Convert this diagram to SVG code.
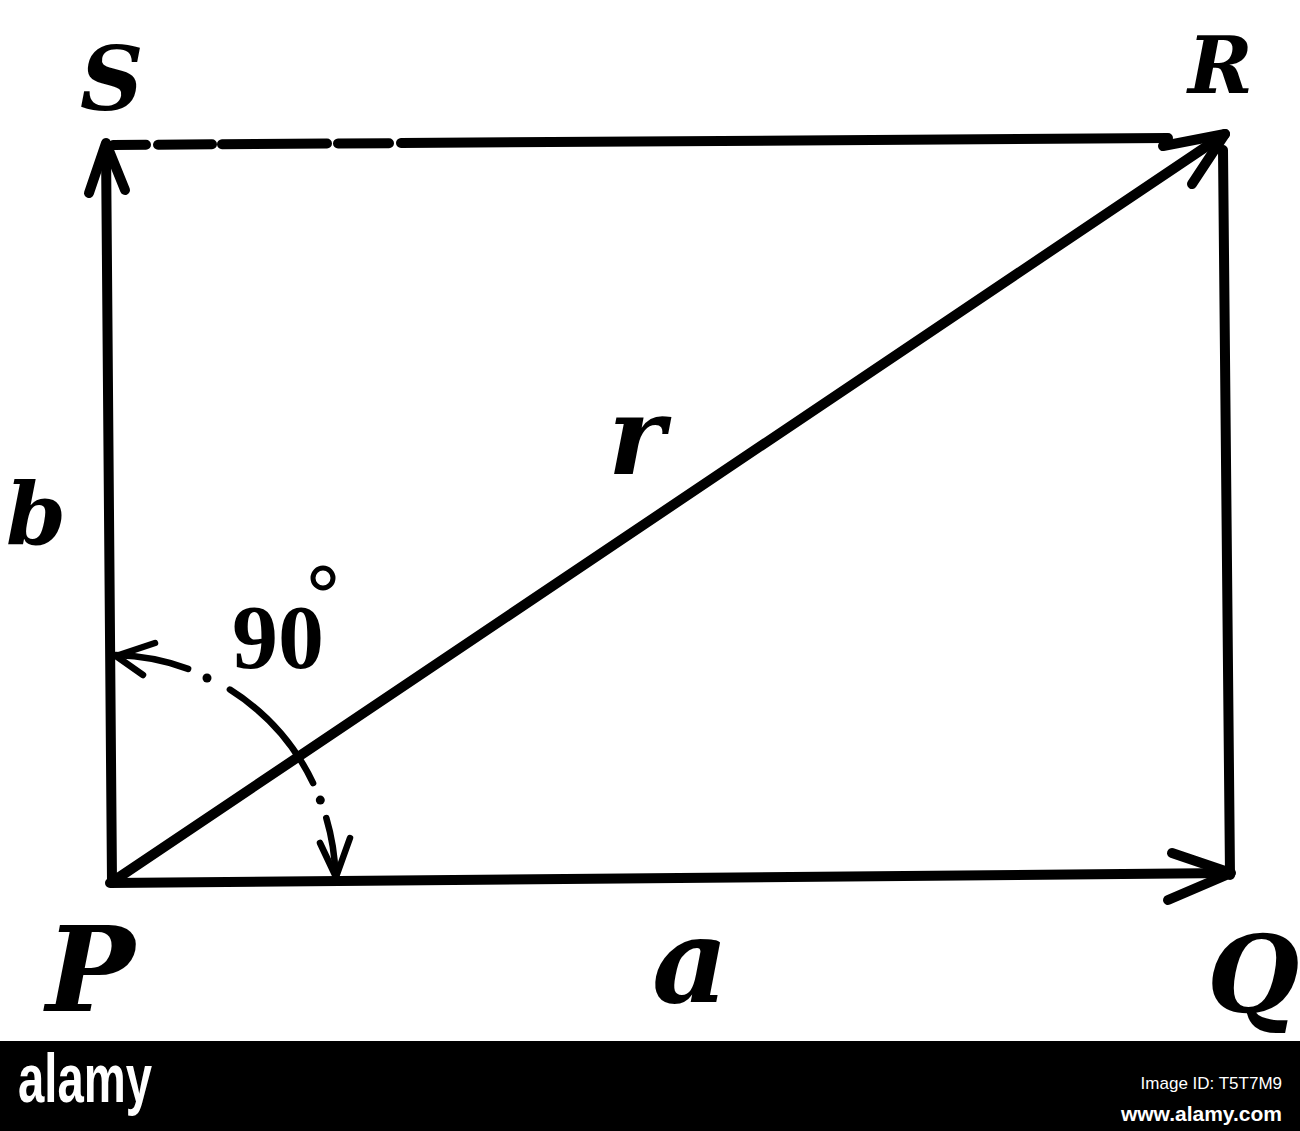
<svg xmlns="http://www.w3.org/2000/svg" width="1300" height="1131" viewBox="0 0 1300 1131">
<style>
.ln{fill:none;stroke:#000;stroke-width:10;stroke-linecap:round;stroke-linejoin:round}
.arc{fill:none;stroke:#000;stroke-width:6.5;stroke-linecap:round;stroke-linejoin:round}
.lbl{font-family:"DejaVu Serif","Liberation Serif",serif;font-weight:bold;font-style:italic;fill:#000}
.num{font-family:"Liberation Serif","DejaVu Serif",serif;font-weight:bold;fill:#000}
.wm{font-family:"Liberation Sans","DejaVu Sans",sans-serif;fill:#fff}
</style>
<rect x="0" y="0" width="1300" height="1131" fill="#fff"/>
<g id="connectors">
  <g id="vec-b">
    <path class="ln" d="M112,882 L106,145"/>
    <path class="ln" d="M89,193 L106,143 L125,190"/>
  </g>
  <g id="dash-top">
    <path class="ln" d="M113,145 L146,144.8"/>
    <path class="ln" d="M158,144.7 L212,144.3"/>
    <path class="ln" d="M222,144.3 L327,143.6"/>
    <path class="ln" d="M338,143.5 L389,143.2"/>
    <path class="ln" d="M401,143 L1168,138"/>
  </g>
  <path id="line-qr" class="ln" d="M1223,150 L1230,875"/>
  <g id="vec-a">
    <path class="ln" d="M110,883 L1230,873"/>
    <path class="ln" d="M1172,853 L1231,873 L1168,900"/>
  </g>
  <g id="vec-r">
    <path class="ln" d="M112,882 L1225,134"/>
    <path class="ln" d="M1163,146 L1225,134 L1192,184"/>
  </g>
  <g id="arc-90">
    <path class="arc" d="M115.9,655.1 A225,225 0 0 1 188.1,668.9"/>
    <circle cx="207" cy="678" r="4.5" fill="#000"/>
    <path class="arc" d="M229.9,689.6 A225,225 0 0 1 313.1,783.1"/>
    <circle cx="320.3" cy="800.1" r="4.5" fill="#000"/>
    <path class="arc" d="M326.3,818 A225,225 0 0 1 335.5,876"/>
    <path class="arc" d="M155,643 L116,656 L143,675"/>
    <path class="arc" d="M320,843 L336,877 L350,838"/>
  </g>
</g>
<g id="node-S"><text class="lbl" x="80" y="110" font-size="88">S</text></g>
<g id="node-R"><text class="lbl" x="1188" y="93" font-size="78">R</text></g>
<g id="node-P"><text class="lbl" x="46" y="1011" font-size="118">P</text></g>
<g id="node-Q"><text class="lbl" x="1207" y="1012" font-size="106">Q</text></g>
<g id="label-a"><text class="lbl" x="652" y="1002" font-size="118">a</text></g>
<g id="label-b"><text class="lbl" x="6" y="545" font-size="86">b</text></g>
<g id="label-r"><text class="lbl" x="608" y="474" font-size="108">r</text></g>
<g id="label-90">
  <text class="num" x="232" y="668" font-size="92">90</text>
  <circle cx="323" cy="578" r="10" fill="none" stroke="#000" stroke-width="5"/>
</g>
<g id="watermark">
  <rect x="0" y="1041" width="1300" height="90" fill="#000"/>
  <text class="wm" x="18" y="1102" font-size="68" font-weight="bold" textLength="134" lengthAdjust="spacingAndGlyphs">alamy</text>
  <text class="wm" x="1282" y="1089" font-size="17" text-anchor="end">Image ID: T5T7M9</text>
  <text class="wm" x="1282" y="1121" font-size="21" font-weight="bold" text-anchor="end">www.alamy.com</text>
</g>
</svg>
